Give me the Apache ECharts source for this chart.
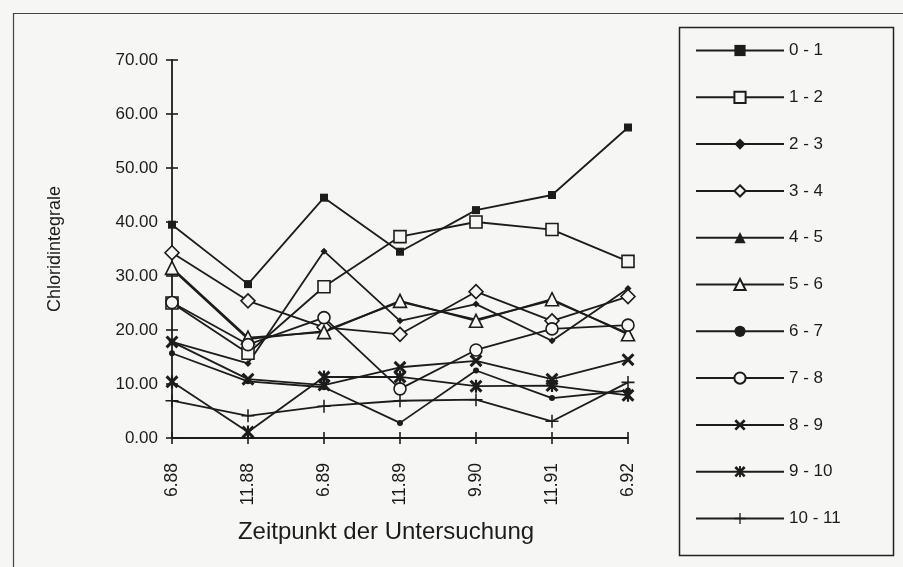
<!DOCTYPE html>
<html>
<head>
<meta charset="utf-8">
<script src="https://cdn.jsdelivr.net/npm/echarts@6/dist/echarts.min.js"></script>
<style>
  html, body { margin: 0; padding: 0; background: #f6f6f4; }
  #chart { width: 903px; height: 567px; }
</style>
</head>
<body>
<div id="chart"></div>
<script>
// Zeitpunkte der Untersuchung
const categories = ['6.88', '11.88', '6.89', '11.89', '9.90', '11.91', '6.92'];
const yTicks = [0, 10, 20, 30, 40, 50, 60, 70];

// Chloridintegrale je Tiefenstufe
const s01   = [39.5, 28.5, 44.5, 34.5, 42.2, 45.0, 57.5];
const s12   = [25.0, 15.7, 28.0, 37.3, 40.0, 38.6, 32.7];
const s23   = [17.8, 13.8, 34.6, 21.7, 24.8, 18.0, 27.7];
const s34   = [34.3, 25.4, 20.5, 19.2, 27.1, 21.7, 26.2];
const s45   = [31.3, 18.3, 19.8, 25.2, 21.9, 25.5, 19.4];
const s56   = [31.5, 18.6, 19.6, 25.4, 21.7, 25.7, 19.2];
const s67   = [15.7, 10.5, 9.4, 2.8, 12.5, 7.4, 8.8];
const s78   = [25.1, 17.3, 22.3, 9.1, 16.3, 20.2, 20.9];
const s89   = [17.8, 10.9, 9.8, 13.1, 14.3, 10.9, 14.5];
const s910  = [10.4, 1.1, 11.3, 11.3, 9.6, 9.7, 7.9];
const s1011 = [6.9, 4.1, 5.9, 6.9, 7.1, 3.1, 10.3];

const INK = '#1c1c1c';
const PAPER = '#f6f6f4';

// marker shapes
const X_PATH = 'path://M0,2L2,0L6,4L10,0L12,2L8,6L12,10L10,12L6,8L2,12L0,10L4,6Z';
const STAR_PATH = 'path://M0,2L2,0L6,4L10,0L12,2L8,6L12,10L10,12L6,8L2,12L0,10L4,6Z M5,0L7,0L7,12L5,12Z';
const PLUS_PATH = 'path://M5.3,0L6.7,0L6.7,5.3L12,5.3L12,6.7L6.7,6.7L6.7,12L5.3,12L5.3,6.7L0,6.7L0,5.3L5.3,5.3Z';

const defs = [
  { name: '0 - 1',   data: s01,   symbol: 'rect',     size: 8,  open: false },
  { name: '1 - 2',   data: s12,   symbol: 'rect',     size: 12, open: true },
  { name: '2 - 3',   data: s23,   symbol: 'diamond',  size: 7,  open: false },
  { name: '3 - 4',   data: s34,   symbol: 'diamond',  size: 14, open: true },
  { name: '4 - 5',   data: s45,   symbol: 'triangle', size: 6,  open: false },
  { name: '5 - 6',   data: s56,   symbol: 'triangle', size: 13, open: true },
  { name: '6 - 7',   data: s67,   symbol: 'circle',   size: 6,  open: false },
  { name: '7 - 8',   data: s78,   symbol: 'circle',   size: 12, open: true },
  { name: '8 - 9',   data: s89,   symbol: X_PATH,     size: 13, open: false },
  { name: '9 - 10',  data: s910,  symbol: STAR_PATH,  size: 13, open: false },
  { name: '10 - 11', data: s1011, symbol: PLUS_PATH,  size: 13, open: false }
];

const series = defs.map(d => ({
  name: d.name,
  type: 'line',
  data: d.data,
  symbol: d.symbol,
  symbolSize: d.size,
  showAllSymbol: true,
  lineStyle: { color: INK, width: 1.8 },
  itemStyle: d.open
    ? { color: PAPER, borderColor: INK, borderWidth: 1.6 }
    : { color: INK, borderWidth: 0 },
  emphasis: { disabled: true },
  z: 3
}));

const chart = echarts.init(document.getElementById('chart'));
chart.setOption({
  backgroundColor: PAPER,
  animation: false,
  textStyle: { fontFamily: 'Liberation Sans, Arial, sans-serif', color: INK },
  grid: { left: 172, right: 275, top: 60, bottom: 129, containLabel: false, outerBoundsMode: 'none' },
  graphic: [
    { type: 'rect', left: 11, top: 11, shape: { width: 920, height: 600 },
      style: { fill: 'none', stroke: '#444', lineWidth: 1.2 }, silent: true },
    { type: 'rect', left: 677, top: 25, shape: { width: 214, height: 528 },
      style: { fill: 'none', stroke: '#222', lineWidth: 1.5 }, silent: true }
  ],
  legend: {
    orient: 'vertical',
    left: 690,
    top: 37,
    itemWidth: 88,
    itemHeight: 14,
    itemGap: 29.8,
    selectedMode: false,
    textStyle: { fontSize: 17, color: INK, lineHeight: 14, padding: [0, 0, 0, 0] },
    data: defs.map(d => d.name)
  },
  xAxis: [
    {
      type: 'category',
      data: categories,
      boundaryGap: false,
      name: 'Zeitpunkt der Untersuchung',
      nameLocation: 'middle',
      nameGap: 82,
      nameTextStyle: { fontSize: 24, color: INK, padding: [0, 28, 0, 0] },
      axisLine: { lineStyle: { color: INK, width: 1.8 } },
      axisTick: { show: true, length: 6, inside: false, lineStyle: { color: INK, width: 1.6 } },
      axisLabel: { rotate: 90, margin: 25, fontSize: 17.5, color: INK },
      splitLine: { show: false }
    },
    {
      type: 'category',
      data: categories,
      boundaryGap: false,
      position: 'bottom',
      axisLine: { show: false },
      axisTick: { show: true, length: 6, inside: true, lineStyle: { color: INK, width: 1.6 } },
      axisLabel: { show: false },
      splitLine: { show: false }
    }
  ],
  yAxis: [
    {
      type: 'value',
      min: yTicks[0],
      max: yTicks[yTicks.length - 1],
      interval: 10,
      name: 'Chloridintegrale',
      nameLocation: 'middle',
      nameGap: 108,
      nameTextStyle: { fontSize: 18, color: INK },
      axisLine: { show: true, lineStyle: { color: INK, width: 1.8 } },
      axisTick: { show: true, length: 6, inside: false, lineStyle: { color: INK, width: 1.6 } },
      axisLabel: { margin: 14, fontSize: 17, color: INK, formatter: v => v.toFixed(2) },
      splitLine: { show: false }
    },
    {
      type: 'value',
      min: yTicks[0],
      max: yTicks[yTicks.length - 1],
      interval: 10,
      position: 'left',
      axisLine: { show: false },
      axisTick: { show: true, length: 6, inside: true, lineStyle: { color: INK, width: 1.6 } },
      axisLabel: { show: false },
      splitLine: { show: false }
    }
  ],
  series: series
});
</script>
</body>
</html>
